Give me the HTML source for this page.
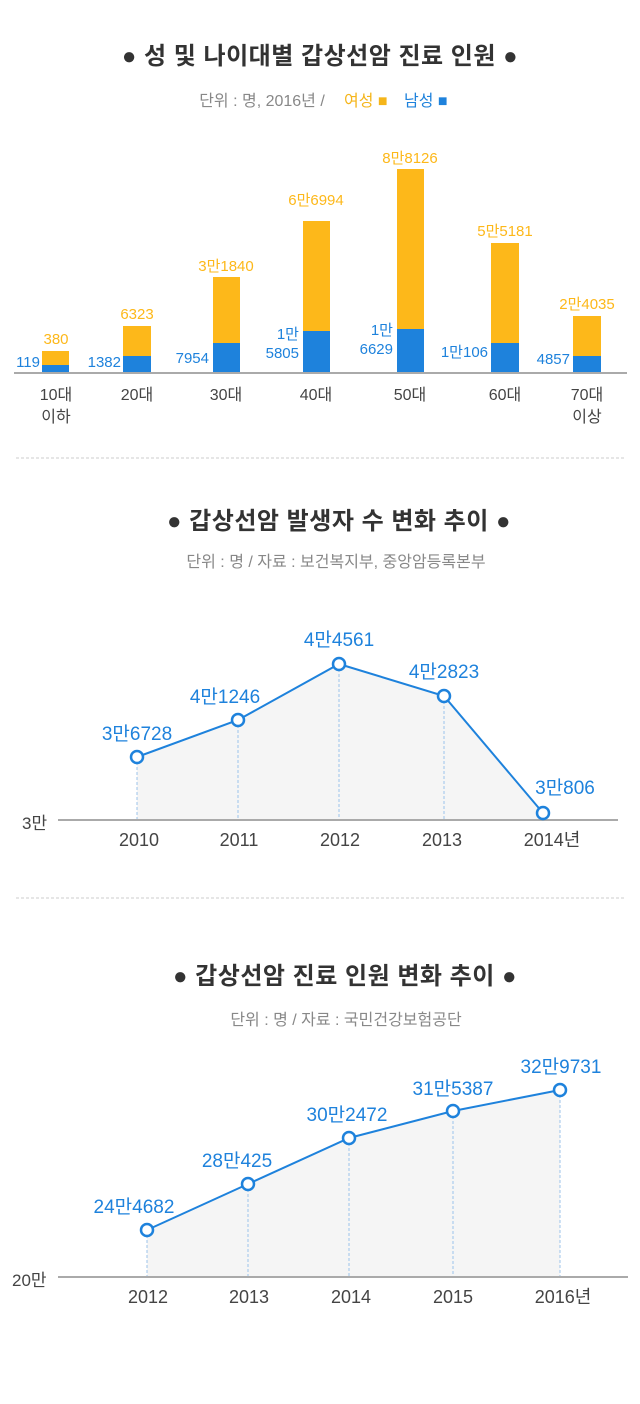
<!DOCTYPE html>
<html><head><meta charset="utf-8"><style>
body{margin:0;background:#fff}
svg{display:block;font-family:"Liberation Sans","Noto Sans CJK KR",sans-serif}
</style></head><body>
<svg width="640" height="1404" viewBox="0 0 640 1404">
<!-- Chart 1 -->
<text x="320" y="64" text-anchor="middle" font-size="24" font-weight="bold" fill="#333" letter-spacing="0.5">● 성 및 나이대별 갑상선암 진료 인원 ●</text>
<text x="262" y="106" text-anchor="middle" font-size="16" fill="#888">단위 : 명, 2016년  /  </text>
<text x="344" y="106" font-size="16" fill="#f5b51a">여성 ■</text>
<text x="404" y="106" font-size="16" fill="#1e82dc">남성 ■</text>
<g>
<rect x="42" y="351" width="27" height="21" fill="#fdb81a"/><rect x="42" y="365" width="27" height="7" fill="#1e82dc"/>
<rect x="123" y="326" width="28" height="46" fill="#fdb81a"/><rect x="123" y="356" width="28" height="16" fill="#1e82dc"/>
<rect x="213" y="277" width="27" height="95" fill="#fdb81a"/><rect x="213" y="343" width="27" height="29" fill="#1e82dc"/>
<rect x="303" y="221" width="27" height="151" fill="#fdb81a"/><rect x="303" y="331" width="27" height="41" fill="#1e82dc"/>
<rect x="397" y="169" width="27" height="203" fill="#fdb81a"/><rect x="397" y="329" width="27" height="43" fill="#1e82dc"/>
<rect x="491" y="243" width="28" height="129" fill="#fdb81a"/><rect x="491" y="343" width="28" height="29" fill="#1e82dc"/>
<rect x="573" y="316" width="28" height="56" fill="#fdb81a"/><rect x="573" y="356" width="28" height="16" fill="#1e82dc"/>
<line x1="14" y1="373" x2="627" y2="373" stroke="#aaa" stroke-width="2"/>
</g>
<g font-size="15" fill="#fdb81a" text-anchor="middle">
<text x="56" y="344">380</text><text x="137" y="319">6323</text><text x="226" y="271">3만1840</text>
<text x="316" y="205">6만6994</text><text x="410" y="163">8만8126</text><text x="505" y="236">5만5181</text><text x="587" y="309">2만4035</text>
</g>
<g font-size="15" fill="#1e82dc" text-anchor="end">
<text x="40" y="367">119</text><text x="121" y="367">1382</text><text x="209" y="363">7954</text>
<text x="299" y="339">1만</text><text x="299" y="358">5805</text>
<text x="393" y="335">1만</text><text x="393" y="354">6629</text>
<text x="488" y="357">1만106</text><text x="570" y="364">4857</text>
</g>
<g font-size="16" fill="#444" text-anchor="middle">
<text x="56" y="400">10대</text><text x="56" y="422">이하</text><text x="137" y="400">20대</text><text x="226" y="400">30대</text>
<text x="316" y="400">40대</text><text x="410" y="400">50대</text><text x="505" y="400">60대</text>
<text x="587" y="400">70대</text><text x="587" y="422">이상</text>
</g>
<line x1="16" y1="458" x2="624" y2="458" stroke="#ccc" stroke-dasharray="3,2"/>

<!-- Chart 2 -->
<text x="339" y="529" text-anchor="middle" font-size="24" font-weight="bold" fill="#333" letter-spacing="0.5">● 갑상선암 발생자 수 변화 추이 ●</text>
<text x="336" y="567" text-anchor="middle" font-size="16" fill="#888">단위 : 명  /  자료 : 보건복지부, 중앙암등록본부</text>
<polygon points="137,757 238,720 339,664 444,696 543,813 543,819 137,819" fill="#f5f5f5"/>
<g stroke="#9cc3ea" stroke-dasharray="3,2"><line x1="137" y1="757" x2="137" y2="819"/><line x1="238" y1="720" x2="238" y2="819"/><line x1="339" y1="664" x2="339" y2="819"/><line x1="444" y1="696" x2="444" y2="819"/></g>
<line x1="58" y1="820" x2="618" y2="820" stroke="#aaa" stroke-width="2"/>
<polyline points="137,757 238,720 339,664 444,696 543,813" fill="none" stroke="#1e82dc" stroke-width="2"/>
<g fill="#fff" stroke="#1e82dc" stroke-width="2.5"><circle cx="137" cy="757" r="6"/><circle cx="238" cy="720" r="6"/><circle cx="339" cy="664" r="6"/><circle cx="444" cy="696" r="6"/><circle cx="543" cy="813" r="6"/></g>
<g font-size="19" fill="#1e82dc" text-anchor="middle">
<text x="137" y="740">3만6728</text><text x="225" y="703">4만1246</text><text x="339" y="646">4만4561</text><text x="444" y="678">4만2823</text><text x="565" y="794">3만806</text>
</g>
<text x="22" y="829" font-size="17" fill="#444">3만</text>
<g font-size="18" fill="#444" text-anchor="middle">
<text x="139" y="846">2010</text><text x="239" y="846">2011</text><text x="340" y="846">2012</text><text x="442" y="846">2013</text><text x="552" y="846">2014년</text>
</g>
<line x1="16" y1="898" x2="624" y2="898" stroke="#ccc" stroke-dasharray="3,2"/>

<!-- Chart 3 -->
<text x="345" y="984" text-anchor="middle" font-size="24" font-weight="bold" fill="#333" letter-spacing="0.5">● 갑상선암 진료 인원 변화 추이 ●</text>
<text x="346" y="1025" text-anchor="middle" font-size="16" fill="#888">단위 : 명  /  자료 : 국민건강보험공단</text>
<polygon points="147,1230 248,1184 349,1138 453,1111 560,1090 560,1276 147,1276" fill="#f5f5f5"/>
<g stroke="#9cc3ea" stroke-dasharray="3,2"><line x1="147" y1="1230" x2="147" y2="1276"/><line x1="248" y1="1184" x2="248" y2="1276"/><line x1="349" y1="1138" x2="349" y2="1276"/><line x1="453" y1="1111" x2="453" y2="1276"/><line x1="560" y1="1090" x2="560" y2="1276"/></g>
<line x1="58" y1="1277" x2="628" y2="1277" stroke="#aaa" stroke-width="2"/>
<polyline points="147,1230 248,1184 349,1138 453,1111 560,1090" fill="none" stroke="#1e82dc" stroke-width="2"/>
<g fill="#fff" stroke="#1e82dc" stroke-width="2.5"><circle cx="147" cy="1230" r="6"/><circle cx="248" cy="1184" r="6"/><circle cx="349" cy="1138" r="6"/><circle cx="453" cy="1111" r="6"/><circle cx="560" cy="1090" r="6"/></g>
<g font-size="19" fill="#1e82dc" text-anchor="middle">
<text x="134" y="1213">24만4682</text><text x="237" y="1167">28만425</text><text x="347" y="1121">30만2472</text><text x="453" y="1095">31만5387</text><text x="561" y="1073">32만9731</text>
</g>
<text x="12" y="1286" font-size="17" fill="#444">20만</text>
<g font-size="18" fill="#444" text-anchor="middle">
<text x="148" y="1303">2012</text><text x="249" y="1303">2013</text><text x="351" y="1303">2014</text><text x="453" y="1303">2015</text><text x="563" y="1303">2016년</text>
</g>
</svg>
</body></html>
